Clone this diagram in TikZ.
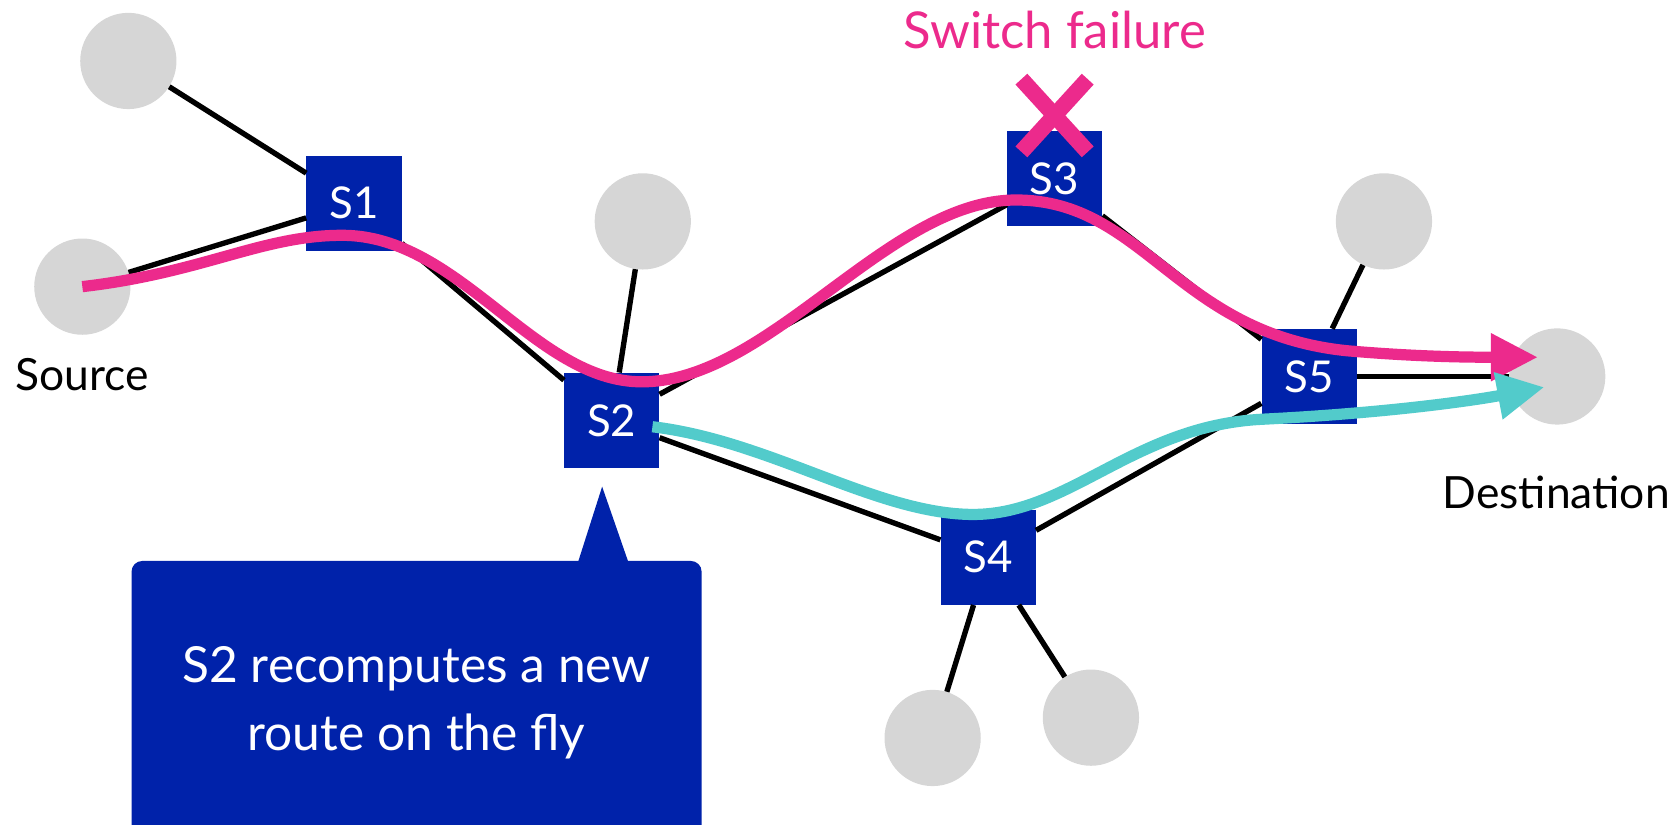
\documentclass[tikz,border=0pt]{standalone}
\usepackage{fontspec}
\setmainfont{Lato}
\usetikzlibrary{arrows.meta}
\definecolor{swblue}{HTML}{0022AA}
\definecolor{failpink}{HTML}{EC2A8C}
\definecolor{altcyan}{HTML}{52CBCB}
\definecolor{hostgray}{HTML}{D6D6D6}
\tikzset{
  switchbox/.style={rectangle, fill=swblue, text=white, minimum size=89pt, inner sep=0pt,
    font=\fontsize{41}{44}\selectfont},
  hostdot/.style={circle, fill=hostgray, minimum size=90pt, inner sep=0pt},
  wire/.style={black, line width=5pt},
  caption/.style={font=\fontsize{41.5}{44}\selectfont, inner sep=0pt},
  oldroute/.style={failpink, line width=10.5pt, -{Triangle[length=44pt,width=42pt]}},
  newroute/.style={altcyan, line width=10.5pt, -{Triangle[length=44pt,width=42pt]}},
  notebox/.style={rectangle, fill=swblue, text=white, rounded corners=10pt,
    minimum width=533pt, minimum height=265pt, align=center,
    font=\fontsize{46.5}{64}\selectfont},
}
\newcommand{\swlabel}[1]{\raisebox{-7pt}{#1}}
\begin{document}
\begin{tikzpicture}[x=1pt,y=-1pt]
\useasboundingbox (0,0) rectangle (1568,771);
\clip (0,0) rectangle (1568,771);

% hosts
\node[hostdot] (h1)   at (120,57)  {};
\node[hostdot] (src)  at (77,268)  {};
\node[hostdot] (h2)   at (601,207) {};
\node[hostdot] (h3)   at (1294,207) {};
\node[hostdot] (dest) at (1456,352) {};
\node[hostdot] (h4)   at (872,690) {};
\node[hostdot] (h5)   at (1020,671) {};

% switches
\node[switchbox] (s1) at (331,190)  {\swlabel{S1}};
\node[switchbox] (s2) at (572,393)  {\swlabel{S2}};
\node[switchbox] (s3) at (986,167)  {\swlabel{S3}};
\node[switchbox] (s4) at (924,521)  {\swlabel{S4}};
\node[switchbox] (s5) at (1224,352) {\swlabel{S5}};

% links
\draw[wire] (h1) -- (s1);
\draw[wire] (src) -- (s1);
\draw[wire] (s1) -- (s2);
\draw[wire] (h2) -- (s2);
\draw[wire] (s2) -- (s3);
\draw[wire] (s2) -- (s4);
\draw[wire] (s3) -- (s5);
\draw[wire] (s4) -- (s5);
\draw[wire] (s5) -- (h3);
\draw[wire] (s5) -- (dest);
\draw[wire] (s4) -- (h4);
\draw[wire] (s4) -- (h5);

% labels
\node[caption] (srclbl)  at (77,350)   {Source};
\node[caption] (destlbl) at (1455,460) {Destination};
\node[caption, text=failpink, font=\fontsize{47.5}{50}\selectfont] (faillbl) at (986,28) {Switch failure};

% failed switch mark
\draw[failpink, line width=15pt] (955,74) -- (1017,142);
\draw[failpink, line width=15pt] (1017,74) -- (955,142);

% original route and recomputed route
\coordinate (pinkend) at (1438,334);
\coordinate (cyanend) at (1444,362);
\draw[oldroute] (src.center) .. controls (190,255) and (245,220) .. (320,220)
  .. controls (430,220) and (500,357) .. (600,357)
  .. controls (720,357) and (830,187) .. (950,187)
  .. controls (1070,187) and (1100,312) .. (1260,328)
  .. controls (1330,334) and (1380,334) .. (pinkend);
\coordinate (reroute) at (610,399);
\draw[newroute] (reroute) .. controls (720,412) and (820,481) .. (910,481)
  .. controls (1000,481) and (1060,398) .. (1180,392)
  .. controls (1300,386) and (1380,374) .. (cyanend);

% callout
\node[notebox] (note) at (389.5,657) {S2 recomputes a new\\route on the fly};
\coordinate (pointer) at (563,455);
\fill[swblue] (pointer) -- (540,527) -- (588,527) -- cycle;
\end{tikzpicture}
\end{document}
